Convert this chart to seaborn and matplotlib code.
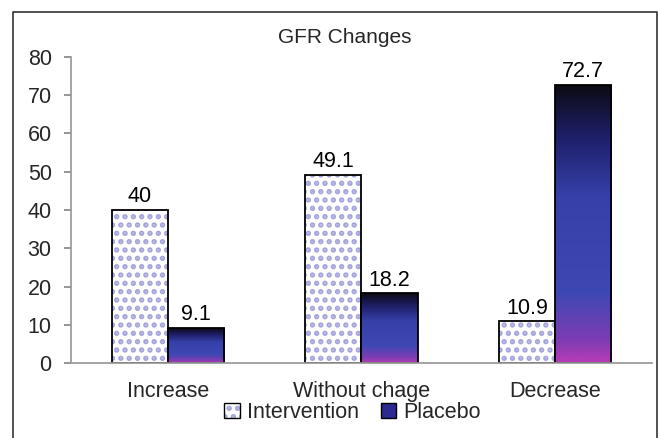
import numpy as np
import pandas as pd
import seaborn as sns
import matplotlib.pyplot as plt
from matplotlib.colors import LinearSegmentedColormap, to_rgba
from matplotlib.patches import Patch
from matplotlib.lines import Line2D

categories = ['Increase', 'Without chage', 'Decrease']
groups = ['Intervention', 'Placebo']
intervention = [40, 49.1, 10.9]
placebo = [9.1, 18.2, 72.7]

df = pd.DataFrame({
    'change': categories * 2,
    'group': [groups[0]] * 3 + [groups[1]] * 3,
    'pct': intervention + placebo,
})

sns.set_theme(style='white')
plt.rcParams['font.family'] = ['Liberation Sans', 'DejaVu Sans']
plt.rcParams['hatch.linewidth'] = 2.6

lav = '#a4a4dc'
grad = LinearSegmentedColormap.from_list('plac', [
    (0.0, '#b83cb8'), (0.08, '#7e3cb2'), (0.25, '#3e48b4'),
    (0.6, '#3540a8'), (0.82, '#1e1e66'), (1.0, '#0b0b12')])

fs = 15.5
fig = plt.figure(figsize=(6.59, 4.38), dpi=100)
ax = fig.add_axes([0.108, 0.171, 0.881, 0.699])

sns.barplot(data=df, x='change', y='pct', hue='group', hue_order=groups,
            order=categories, width=0.58, gap=0, legend=False, ax=ax,
            palette=['white', '#2a2a90'], saturation=1)

n = len(categories)
for i, p in enumerate(ax.patches):
    p.set_edgecolor('black')
    p.set_linewidth(1.3)
    if i < n:
        p.set_facecolor('white')
        p.set_hatch('..')
        p._hatch_color = to_rgba(lav)
    else:
        x0, y0 = p.get_x(), p.get_y()
        w, h = p.get_width(), p.get_height()
        im = ax.imshow(np.linspace(0, 1, 256).reshape(-1, 1), cmap=grad,
                       origin='lower', aspect='auto',
                       extent=[x0, x0 + w, y0, y0 + h], zorder=p.get_zorder())
        im.set_clip_path(p)
        p.set_facecolor('none')
        p.set_zorder(p.get_zorder() + 0.1)

for cont in ax.containers:
    ax.bar_label(cont, labels=[f'{v:g}' for v in cont.datavalues],
                 padding=2, fontsize=fs, color='black')

ax.set_xlim(-0.5, 2.5)
ax.set_ylim(0, 80)
ax.set_yticks(range(0, 81, 10))
ax.set_xlabel('')
ax.set_ylabel('')
ax.set_xticks(np.arange(-0.5, 2.6, 1), minor=True)
ax.tick_params(axis='x', which='major', length=0, labelsize=fs, pad=13)
ax.tick_params(axis='x', which='minor', length=6, color='#555555', direction='out')
ax.tick_params(axis='y', length=5, color='#888888', direction='out',
               labelsize=fs, left=True, pad=9)
for s in ['top', 'right']:
    ax.spines[s].set_visible(False)
ax.spines['left'].set_color('#999999')
ax.spines['bottom'].set_color('#999999')

fig.text(0.523, 0.915, 'GFR Changes', ha='center', va='center', fontsize=15)

handles = [Patch(facecolor='white', edgecolor='black', hatch='..'),
           Patch(facecolor='#2a2a90', edgecolor='black')]
leg = fig.legend(handles, groups, loc='center', bbox_to_anchor=(0.535, 0.058),
                 ncol=2, frameon=False, fontsize=fs, handlelength=0.7,
                 handleheight=0.7, handletextpad=0.35, columnspacing=1.0)
leg.legend_handles[0]._hatch_color = to_rgba(lav)

# outer frame
fx0, fx1, fy1 = 13 / 659, 657 / 659, 1 - 12 / 438
fig.add_artist(Line2D([fx0, fx0, fx1, fx1], [0, fy1, fy1, 0],
                      transform=fig.transFigure, color='#333333', lw=1.2))

fig.savefig('out.png', dpi=100)
